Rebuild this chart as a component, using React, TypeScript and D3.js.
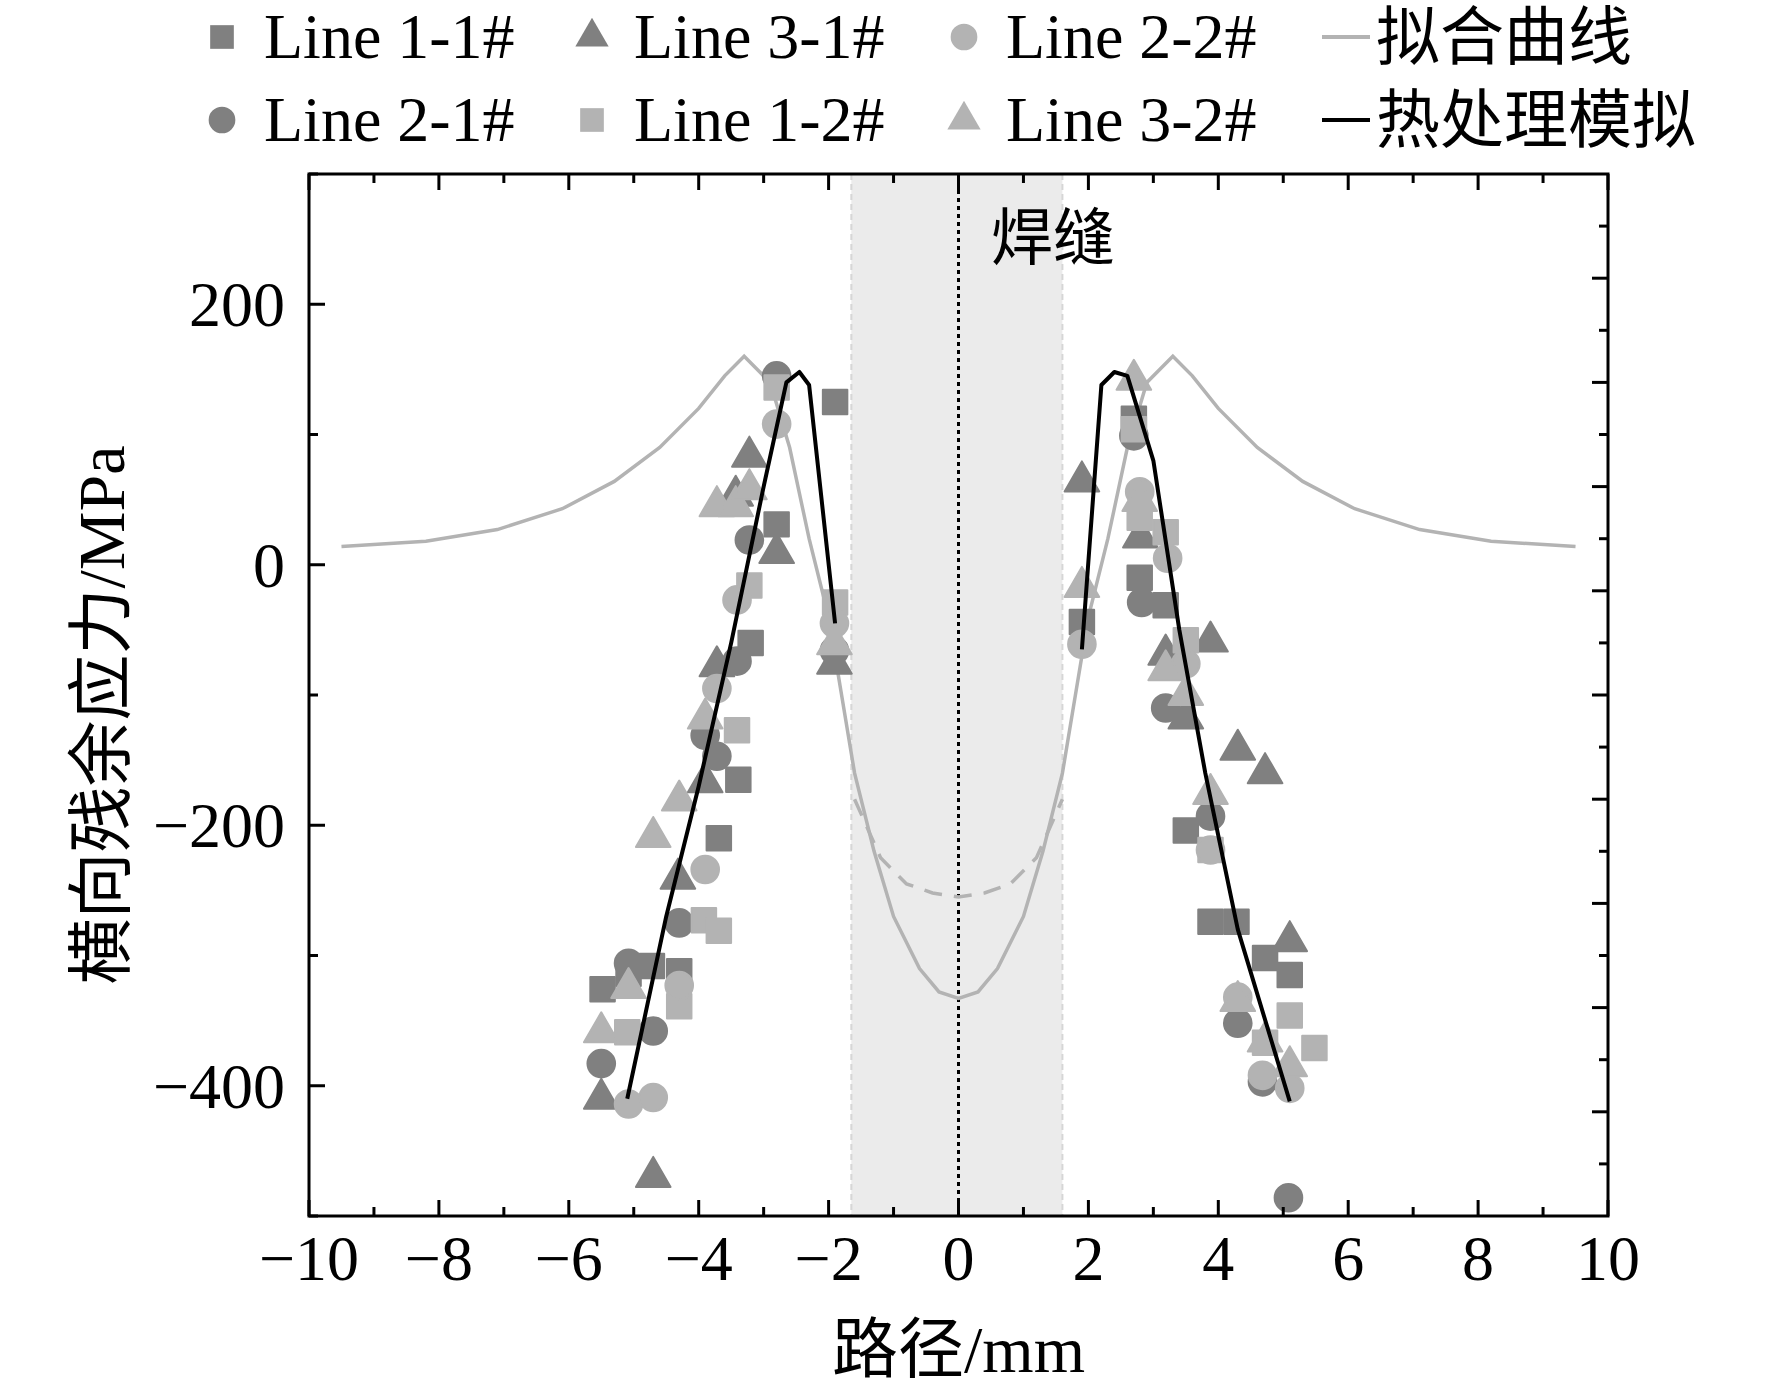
import React, { useRef, useEffect } from 'react';
import * as d3 from 'd3';

type P = [number, number];

const line11: P[] = [[-5.48,-326],[-5.08,-314],[-4.72,-308],[-4.3,-312],[-3.69,-210],[-3.39,-165],[-3.2,-60],[-2.8,31],[-1.9,125],
  [1.9,-44],[2.7,112],[2.79,-10],[3.19,-31],[3.5,-204],[3.88,-274],[4.28,-274],[4.72,-302],[5.1,-315]];
const line21: P[] = [[-5.5,-383],[-5.08,-306],[-4.7,-358],[-4.3,-275],[-3.9,-131],[-3.72,-147],[-3.41,-74],[-3.22,19],[-2.8,145],[-1.91,-66],
  [2.82,-29],[2.7,99],[3.19,-110],[3.88,-193],[4.3,-352],[4.68,-397],[5.08,-486]];
const line31: P[] = [[-5.5,-410],[-4.7,-470],[-4.32,-241],[-3.9,-167],[-3.72,-78],[-3.43,53],[-3.22,83],[-2.8,9],[-1.91,-76],
  [1.9,64],[2.8,21],[3.19,-69],[3.5,-118],[3.88,-59],[4.3,-142],[4.72,-160],[5.1,-289]];
const line22: P[] = [[-5.08,-414],[-4.7,-409],[-4.3,-323],[-3.9,-234],[-3.72,-95],[-3.41,-27],[-2.8,108],[-1.91,-45],
  [1.9,-61],[2.79,56],[3.22,5],[3.5,-76],[3.88,-219],[4.3,-332],[4.68,-392],[5.1,-402]];
const line12: P[] = [[-5.1,-359],[-4.3,-339],[-3.92,-273],[-3.69,-281],[-3.41,-127],[-3.22,-16],[-2.8,136],[-1.9,-29],
  [2.7,104],[2.79,36],[3.19,25],[3.5,-58],[3.88,-219],[4.72,-367],[5.1,-346],[5.48,-371]];
const line32: P[] = [[-5.5,-359],[-5.08,-325],[-4.7,-209],[-4.3,-181],[-3.9,-118],[-3.72,45],[-3.43,45],[-3.22,58],[-1.91,-61],
  [1.9,-17],[2.7,142],[2.79,49],[3.19,-81],[3.5,-100],[3.88,-176],[4.3,-335],[4.72,-366],[5.1,-385]];

const fitHalf: P[] = [[-9.5,14],[-8.2,18],[-7.1,27],[-6.1,43],[-5.3,64],[-4.6,90],[-4,120],[-3.6,145],[-3.3,160],[-2.9,140],
  [-2.6,90],[-2.3,20],[-2.0,-40],[-1.8,-100],[-1.6,-160],[-1.3,-220],[-1.0,-270],[-0.6,-310],[-0.3,-328],[0,-333]];
const fitCurve: P[] = [...fitHalf, ...fitHalf.slice(0, -1).reverse().map(([x, y]) => [-x, y] as P)];
const dashHalf: P[] = [[-1.6,-180],[-1.2,-225],[-0.8,-245],[-0.4,-252],[0,-255]];
const dashCurve: P[] = [...dashHalf, ...dashHalf.slice(0, -1).reverse().map(([x, y]) => [-x, y] as P)];
const simLeft: P[] = [[-5.1,-410],[-4.5,-270],[-4.0,-170],[-3.5,-60],[-3.0,60],[-2.65,140],[-2.45,148],[-2.3,138],[-1.9,-45]];
const simRight: P[] = [[1.9,-65],[2.2,138],[2.4,148],[2.6,145],[3.0,80],[3.4,-50],[3.8,-160],[4.3,-280],[5.1,-412]];

const xTicks = [-10, -8, -6, -4, -2, 0, 2, 4, 6, 8, 10];
const yTicks = [-400, -200, 0, 200];

const DARK = '#808080';
const LIGHT = '#b3b3b3';
const FONT = '"Liberation Serif", "Noto Sans CJK SC", serif';

const series = [
  { name: 'Line 1-1#', data: line11, shape: 'square', color: DARK },
  { name: 'Line 2-1#', data: line21, shape: 'circle', color: DARK },
  { name: 'Line 3-1#', data: line31, shape: 'triangle', color: DARK },
  { name: 'Line 1-2#', data: line12, shape: 'square', color: LIGHT },
  { name: 'Line 2-2#', data: line22, shape: 'circle', color: LIGHT },
  { name: 'Line 3-2#', data: line32, shape: 'triangle', color: LIGHT },
];

const symbolFor = (s: string) => (s === 'square' ? d3.symbolSquare : s === 'circle' ? d3.symbolCircle : d3.symbolTriangle);

const App: React.FC = () => {
  const ref = useRef<SVGSVGElement>(null);

  useEffect(() => {
    document.body.style.margin = '0';
    const svg = d3.select(ref.current);
    svg.selectAll('*').remove();
    const L = 309, R = 1608, T = 174, B = 1216;
    const x = d3.scaleLinear().domain([-10, 10]).range([L, R]);
    const y = d3.scaleLinear().domain([-500, 300]).range([B, T]);

    svg.append('clipPath').attr('id', 'c').append('rect')
      .attr('x', L).attr('y', T).attr('width', R - L).attr('height', B - T);
    const g = svg.append('g').attr('clip-path', 'url(#c)');

    // weld zone
    g.append('rect').attr('x', x(-1.65)).attr('y', T).attr('width', x(1.6) - x(-1.65)).attr('height', B - T).attr('fill', '#ebebeb');
    [-1.65, 1.6].forEach(v => g.append('line').attr('x1', x(v)).attr('x2', x(v)).attr('y1', T).attr('y2', B)
      .attr('stroke', '#d6d6d6').attr('stroke-width', 2).attr('stroke-dasharray', '6,4'));
    g.append('line').attr('x1', x(0)).attr('x2', x(0)).attr('y1', T).attr('y2', B)
      .attr('stroke', '#000').attr('stroke-width', 3).attr('stroke-dasharray', '4,4');

    const ln = d3.line<P>().x(d => x(d[0])).y(d => y(d[1]));
    g.append('path').attr('d', ln(fitCurve)).attr('fill', 'none').attr('stroke', LIGHT).attr('stroke-width', 3.5);
    g.append('path').attr('d', ln(dashCurve)).attr('fill', 'none').attr('stroke', LIGHT).attr('stroke-width', 3.5).attr('stroke-dasharray', '18,12');

    series.forEach(s => {
      const sym = d3.symbol().type(symbolFor(s.shape)).size(s.shape === 'triangle' ? 520 : 600);
      g.selectAll(null).data(s.data).enter().append('path')
        .attr('d', sym()).attr('transform', d => `translate(${x(d[0])},${y(d[1])})`)
        .attr('fill', s.color).attr('stroke', s.color).attr('stroke-width', 2).attr('stroke-linejoin', 'round');
    });

    [simLeft, simRight].forEach(d => g.append('path').attr('d', ln(d)).attr('fill', 'none')
      .attr('stroke', '#000').attr('stroke-width', 4).attr('stroke-linejoin', 'round'));

    svg.append('text').attr('x', x(0.5)).attr('y', y(245)).attr('font-family', FONT).attr('font-size', 62)
      .attr('dominant-baseline', 'middle').text('焊缝');

    // axes
    const ax = svg.append('g').attr('stroke', '#000').attr('stroke-width', 3);
    ax.append('rect').attr('x', L).attr('y', T).attr('width', R - L).attr('height', B - T).attr('fill', 'none');
    d3.range(-10, 11, 1).forEach(v => {
      const len = v % 2 === 0 ? 16 : 9;
      ax.append('line').attr('x1', x(v)).attr('x2', x(v)).attr('y1', B).attr('y2', B - len);
      ax.append('line').attr('x1', x(v)).attr('x2', x(v)).attr('y1', T).attr('y2', T + len);
    });
    d3.range(-500, 301, 100).forEach(v => {
      const len = v % 200 === 0 ? 16 : 9;
      ax.append('line').attr('x1', L).attr('x2', L + len).attr('y1', y(v)).attr('y2', y(v));
    });
    d3.range(-460, 300, 40).forEach(v => {
      const len = (v + 20) % 80 === 0 ? 16 : 9;
      ax.append('line').attr('x1', R).attr('x2', R - len).attr('y1', y(v)).attr('y2', y(v));
    });

    const fmt = (v: number) => (v < 0 ? '\u2212' + Math.abs(v) : String(v));
    svg.selectAll('.xt').data(xTicks).enter().append('text')
      .attr('x', d => x(d)).attr('y', B + 64).attr('text-anchor', 'middle')
      .attr('font-family', FONT).attr('font-size', 64).text(d => fmt(d));
    svg.selectAll('.yt').data(yTicks).enter().append('text')
      .attr('x', L - 24).attr('y', d => y(d) + 22).attr('text-anchor', 'end')
      .attr('font-family', FONT).attr('font-size', 64).text(d => fmt(d));

    svg.append('text').attr('x', (L + R) / 2).attr('y', 1372).attr('text-anchor', 'middle')
      .attr('font-family', FONT).attr('font-size', 66).text('路径/mm');
    svg.append('text').attr('transform', `translate(124,${(T + B) / 2 + 20}) rotate(-90)`).attr('text-anchor', 'middle')
      .attr('font-family', FONT).attr('font-size', 66).text('横向残余应力/MPa');

    // legend
    const legend = [
      { s: series[0], cx: 222, cy: 37 }, { s: series[2], cx: 592, cy: 37 }, { s: series[4], cx: 964, cy: 37 },
      { s: series[1], cx: 222, cy: 120 }, { s: series[3], cx: 592, cy: 120 }, { s: series[5], cx: 964, cy: 120 },
    ];
    legend.forEach(({ s, cx, cy }) => {
      const sym = d3.symbol().type(symbolFor(s.shape)).size(s.shape === 'triangle' ? 480 : 560);
      svg.append('path').attr('d', sym()).attr('transform', `translate(${cx},${cy})`).attr('fill', s.color);
      svg.append('text').attr('x', cx + 42).attr('y', cy + 21).attr('font-family', FONT).attr('font-size', 64).text(s.name);
    });
    svg.append('line').attr('x1', 1322).attr('x2', 1370).attr('y1', 37).attr('y2', 37).attr('stroke', LIGHT).attr('stroke-width', 4);
    svg.append('text').attr('x', 1376).attr('y', 59).attr('font-family', FONT).attr('font-size', 64).text('拟合曲线');
    svg.append('line').attr('x1', 1322).attr('x2', 1370).attr('y1', 120).attr('y2', 120).attr('stroke', '#000').attr('stroke-width', 4);
    svg.append('text').attr('x', 1376).attr('y', 142).attr('font-family', FONT).attr('font-size', 64).text('热处理模拟');
  }, []);

  return <svg ref={ref} width={1772} height={1389} style={{ display: 'block', background: '#fff' }} />;
};

export default App;
